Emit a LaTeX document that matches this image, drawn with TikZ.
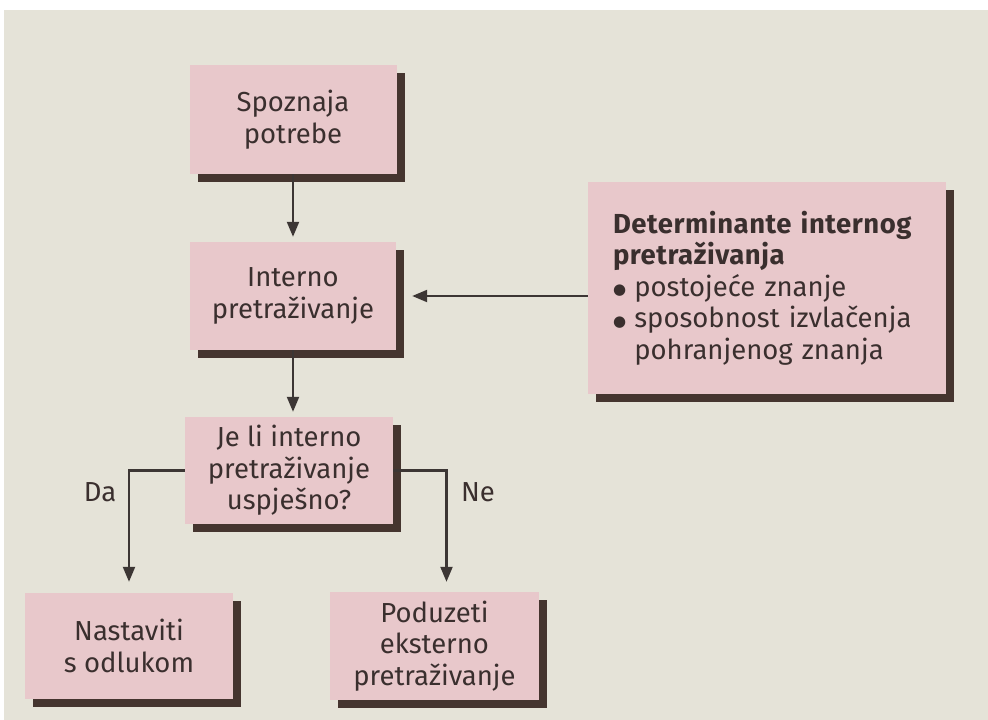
\documentclass[tikz,border=0pt]{standalone}
\usepackage{fontspec}
\setmainfont{Fira Sans}
\newfontfamily\dvs{DejaVu Sans}
\usetikzlibrary{arrows.meta,shadows}
\definecolor{paper}{HTML}{E5E3D8}
\definecolor{boxpink}{HTML}{E8C8CB}
\definecolor{shade}{HTML}{45352F}
\definecolor{ink}{HTML}{3A2F2E}
\definecolor{linec}{HTML}{3C3634}
\newcommand{\bigbul}{\raisebox{1.5pt}{\dvs\fontsize{15}{15}\selectfont ●}\hspace{0.3em}}
\begin{document}
\begin{tikzpicture}[x=1pt,y=-1pt,
  fbox/.style={draw=none, fill=boxpink, text=ink, align=center,
    font=\fontsize{27.5}{31.5}\selectfont, inner sep=0pt,
    drop shadow={shadow xshift=8pt, shadow yshift=-8pt, fill=shade, opacity=1}},
  conn/.style={draw=linec, line width=2.2pt, -{Triangle[length=15pt,width=12pt]}},
  lbl/.style={text=ink, font=\fontsize{27.5}{31.5}\selectfont, inner sep=0pt}]
\useasboundingbox (0,0) rectangle (988,720);
\fill[white] (0,0) rectangle (988,720);
\fill[paper] (4,10) rectangle (988,720);

\node[fbox, minimum width=207pt, minimum height=109pt] (sp) at (293,119.5) {Spoznaja\\potrebe};
\node[fbox, minimum width=206pt, minimum height=108pt] (in) at (293,296) {Interno\\pretraživanje};
\node[fbox, minimum width=358pt, minimum height=212pt, align=left, text width=308pt] (det) at (767,288)
  {{\bfseries\addfontfeatures{LetterSpace=2}Determinante internog}\\
   {\bfseries\addfontfeatures{LetterSpace=2}pretraživanja}\\
   \bigbul postojeće znanje\\
   \bigbul sposobnost izvlačenja\\
   \phantom{\bigbul}pohranjenog znanja};
\node[fbox, minimum width=208pt, minimum height=107pt] (je) at (289,470.5) {Je li interno\\pretraživanje\\uspješno?};
\node[fbox, minimum width=208pt, minimum height=106pt] (na) at (129,646) {Nastaviti\\s odlukom};
\node[fbox, minimum width=209pt, minimum height=108pt] (po) at (434.5,646) {Poduzeti\\eksterno\\pretraživanje};

\draw[conn, shorten >=5pt] (sp.south) -- (in.north);
\draw[conn, shorten >=16pt] (det.west |- in.east) -- (in.east);
\draw[conn, shorten >=5pt] (in.south) -- (in.south |- je.north);
\draw[conn, shorten >=11pt] (je.west) -| (na.north);
\draw[conn, shorten >=10pt] (je.east) -| ([xshift=12pt]po.north);

\node[lbl] (da) at (100,492) {Da};
\node[lbl] (ne) at (478,492) {Ne};
\end{tikzpicture}
\end{document}
